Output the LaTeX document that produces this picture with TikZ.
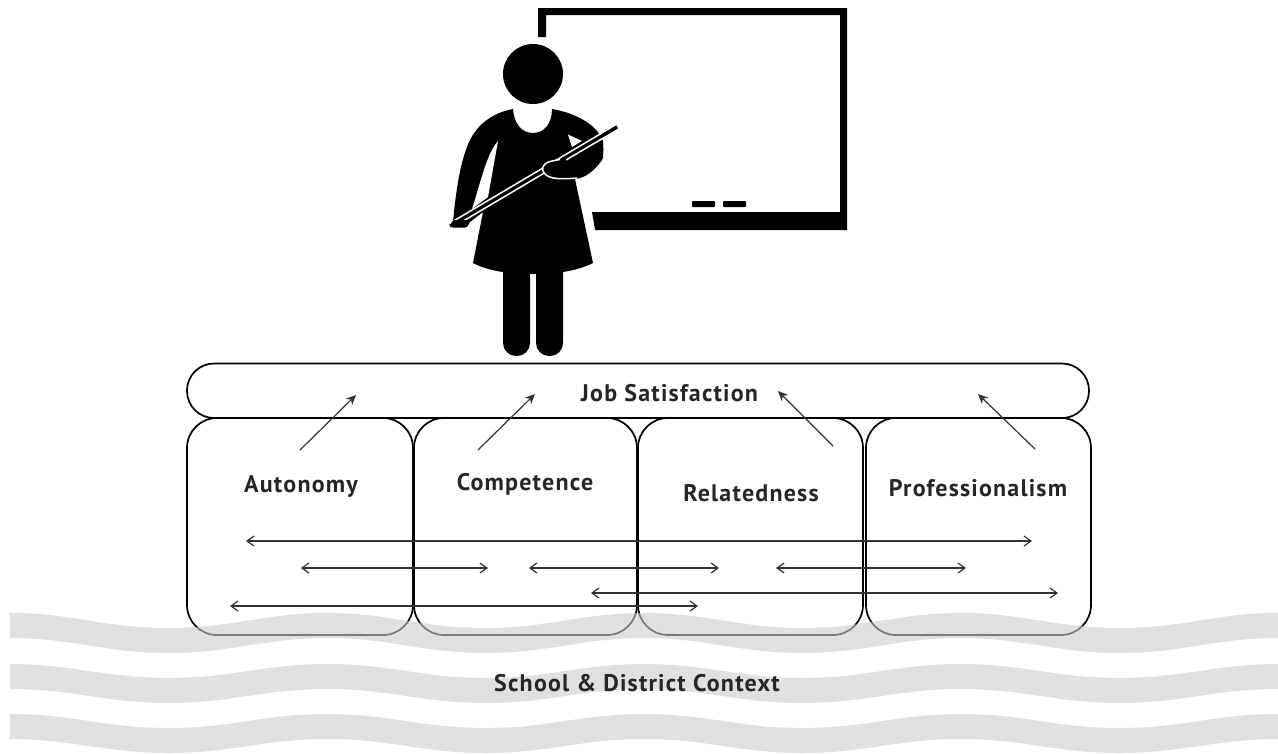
\documentclass[tikz,border=0pt]{standalone}
\usepackage{fontspec}
\setmainfont{PT Sans}
\usetikzlibrary{arrows.meta}
\definecolor{bandgrey}{HTML}{CBCBCB}
\tikzset{
 lab/.style={font=\fontsize{24}{26}\selectfont\addfontfeatures{LetterSpace=5}\bfseries, text=black!85, inner sep=0pt},
 roundbox/.style={draw=black, line width=1.7pt, rounded corners=30pt},
 up/.style={draw=black!80, line width=1.2pt, -{Stealth[length=10pt,width=9pt]}},
 both/.style={draw=black!80, line width=1.2pt, {Straight Barb[length=7pt,width=10pt]}-{Straight Barb[length=7pt,width=10pt]}},
 band/.style={fill=bandgrey, fill opacity=.6, draw=none},
 ink/.style={fill=black, draw=none}
}
\begin{document}
\begin{tikzpicture}[x=1pt,y=-1pt]
\useasboundingbox (0,0) rectangle (1278,753);
% board
\fill[ink] (538,8) -- (847,8) -- (847,230) -- (595,230) -- (592,212) -- (840,212) -- (840,15) -- (546,15) -- (546,37) -- (538,37) -- cycle;
\fill[ink,rounded corners=.8pt] (692,201) rectangle (715,207);
\fill[ink,rounded corners=.8pt] (723,201) rectangle (746,207);
% legs
\fill[ink,rounded corners=13pt] (503,250) rectangle (530,356);
\fill[ink,rounded corners=13pt] (536,250) rectangle (563,356);
\fill[white] (530,271) rectangle (536,276);
% head
\fill[ink] (533,74) circle (30);
% body + skirt
\fill[ink] (513,109) .. controls (514,124) and (522,133) .. (533,133)
 .. controls (544,133) and (552,124) .. (552,109)
 .. controls (570,112) and (588,120) .. (597,131)
 .. controls (604,140) and (605,152) .. (601,160)
 .. controls (595,171) and (585,178) .. (575,179)
 -- (593,263) .. controls (575,272) and (553,274) .. (533,274)
 .. controls (513,274) and (490,272) .. (473,263)
 -- (483,212) -- (470,222) -- (467,227) -- (451,227) -- (453,222)
 .. controls (456,190) and (460,165) .. (467,147)
 .. controls (475,125) and (492,113) .. (513,109) -- cycle;
% gap under left arm
\fill[white] (498,141) .. controls (486,155) and (480,185) .. (472,209) -- (488,197) -- cycle;
% notch
\fill[white] (568,134.5) -- (572,147) -- (582,141) -- cycle;
% pointer
\draw[white,line width=6.5pt] (450,226) -- (617,127);
\draw[black,line width=3.2pt] (450,226) -- (617,127);
\fill[ink,rounded corners=2pt] (452,220) -- (468,220) -- (467,227.5) -- (451,227.5) -- cycle;
% hand
\fill[ink] (543,170) .. controls (542,165) and (546,162) .. (552,161) -- (566,158) -- (603,140) -- (603,158) .. controls (596,172) and (580,178) .. (566,178) .. controls (555,178) and (545,177) .. (543,170) -- cycle;
\draw[white,line width=1.5pt] (560,159.5) -- (552,161) .. controls (546,162) and (541,166) .. (543,171) .. controls (546,178) and (555,180) .. (577,178);
% upper pointer again
\draw[white,line width=6pt] (565,158) -- (602,136);
\draw[black,line width=3.2pt] (562,159.5) -- (617,127);
% boxes
\draw[roundbox,rounded corners=27pt] (187,363.5) rectangle (1089,418);
\draw[roundbox] (187,418) rectangle (413,635);
\draw[roundbox] (414,418) rectangle (637,635);
\draw[roundbox] (638,418) rectangle (863,635);
\draw[roundbox] (866,418) rectangle (1091,635);
\node[lab] (job) at (669.5,393) {Job Satisfaction};
\node[lab] (aut) at (301,486) {Autonomy};
\node[lab] (com) at (525,484) {Competence};
\node[lab] (rel) at (751,493) {Relatedness};
\node[lab] (pro) at (978,488) {Professionalism};
% connector ends
\foreach \n/\x/\y in {a1/300/450,a2/356/395,b1/478/450,b2/535/394,c1/833/446,c2/778/391,d1/1035/449,d2/978/394,
 e1/246/541,e2/1032/541,f1/301/568,f2/488/568,g1/529/568,g2/719/568,h1/776/568,h2/966/568,i1/591/593,i2/1058/593,j1/230/606,j2/698/606}
 {\coordinate (\n) at (\x,\y);}
\draw[up] (a1) -- (a2);
\draw[up] (b1) -- (b2);
\draw[up] (c1) -- (c2);
\draw[up] (d1) -- (d2);
\draw[both] (e1) -- (e2);
\draw[both] (f1) -- (f2);
\draw[both] (g1) -- (g2);
\draw[both] (h1) -- (h2);
\draw[both] (i1) -- (i2);
\draw[both] (j1) -- (j2);
% bands
\foreach \t/\b in {613/628,664/678,714/728}{
 \pgfmathsetmacro{\tt}{\t}\pgfmathsetmacro{\bb}{\b}
 \fill[band] (10,\tt)
  .. controls (73,\tt) and (105,\bb) .. (168.5,\bb) .. controls (232,\bb) and (264,\tt) .. (327,\tt)
  .. controls (390,\tt) and (422,\bb) .. (485.5,\bb) .. controls (549,\bb) and (581,\tt) .. (644,\tt)
  .. controls (707,\tt) and (739,\bb) .. (802.5,\bb) .. controls (866,\bb) and (898,\tt) .. (961,\tt)
  .. controls (1024,\tt) and (1056,\bb) .. (1119.5,\bb) .. controls (1183,\bb) and (1215,\tt) .. (1278,\tt)
  -- ++(0,25)
  .. controls (1215,\tt+25) and (1183,\bb+25) .. (1119.5,\bb+25) .. controls (1056,\bb+25) and (1024,\tt+25) .. (961,\tt+25)
  .. controls (898,\tt+25) and (866,\bb+25) .. (802.5,\bb+25) .. controls (739,\bb+25) and (707,\tt+25) .. (644,\tt+25)
  .. controls (581,\tt+25) and (549,\bb+25) .. (485.5,\bb+25) .. controls (422,\bb+25) and (390,\tt+25) .. (327,\tt+25)
  .. controls (264,\tt+25) and (232,\bb+25) .. (168.5,\bb+25) .. controls (105,\bb+25) and (73,\tt+25) .. (10,\tt+25) -- cycle;
}
\node[lab] (ctx) at (637,683) {School \& District Context};
\end{tikzpicture}
\end{document}
